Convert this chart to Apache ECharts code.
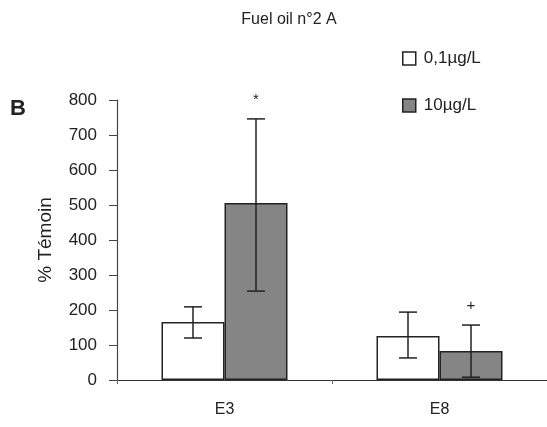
<!DOCTYPE html>
<html><head><meta charset="utf-8">
<script src="https://cdn.jsdelivr.net/npm/echarts@6/dist/echarts.min.js"></script>
<style>html,body{margin:0;padding:0;background:#fff}#c{width:547px;height:427px}</style>
</head><body><div id="c"></div>
<script>
const categories = ['E3', 'E8'];
const seriesNames = ['0,1µg/L', '10µg/L'];
const lowValues = [166, 126];
const lowErrLow = [120, 63];
const lowErrHigh = [209, 194];
const highValues = [506, 83];
const highErrLow = [254, 8];
const highErrHigh = [746, 157];
const lowSig = ['', ''];
const highSig = ['*', '+'];
const yTicks = [0, 100, 200, 300, 400, 500, 600, 700, 800];

const FONT = '"Liberation Sans",Arial,sans-serif';
const BW = 63;

function errSeries(lo, hi, sig, dir) {
  return {
    type: 'custom',
    silent: true,
    z: 10,
    data: categories.map((c, i) => [i, lo[i], hi[i], sig[i]]),
    renderItem: function (params, api) {
      const i = api.value(0);
      const pLo = api.coord([i, api.value(1)]);
      const pHi = api.coord([i, api.value(2)]);
      const x = pLo[0] + dir * BW / 2;
      const cap = 9;
      const st = { stroke: '#222', lineWidth: 1.5 };
      const children = [
        { type: 'line', shape: { x1: x, y1: pLo[1], x2: x, y2: pHi[1] }, style: st },
        { type: 'line', shape: { x1: x - cap, y1: pHi[1], x2: x + cap, y2: pHi[1] }, style: st },
        { type: 'line', shape: { x1: x - cap, y1: pLo[1], x2: x + cap, y2: pLo[1] }, style: st }
      ];
      const s = api.value(3);
      if (s) {
        children.push({ type: 'text', style: { text: s, x: x, y: pHi[1] - 19, align: 'center', verticalAlign: 'middle', fontSize: 15, fontFamily: FONT, fill: '#222' } });
      }
      return { type: 'group', children: children };
    }
  };
}

const chart = echarts.init(document.getElementById('c'), null, { renderer: 'canvas' });
chart.setOption({
  animation: false,
  backgroundColor: '#fff',
  title: {
    text: 'Fuel oil n°2 A', left: 284, top: 7, textAlign: 'center',
    textStyle: { fontSize: 16, fontWeight: 'normal', fontFamily: FONT, color: '#222' }
  },
  legend: {
    orient: 'vertical', left: 397, top: 45, itemWidth: 13, itemHeight: 13, itemGap: 30,
    textStyle: { fontSize: 17, fontFamily: FONT, color: '#222', padding: [0, 0, 0, 3] },
    data: [
      { name: seriesNames[0], icon: 'rect', itemStyle: { color: '#fff', borderColor: '#222', borderWidth: 1.5 } },
      { name: seriesNames[1], icon: 'rect', itemStyle: { color: '#858585', borderColor: '#222', borderWidth: 1.5 } }
    ]
  },
  graphic: [
    { type: 'text', left: 10, top: 98, style: { text: 'B', fontSize: 22, fontWeight: 'bold', fontFamily: FONT, fill: '#222' } }
  ],
  grid: { left: 117, top: 100, width: 432, height: 280, containLabel: false },
  xAxis: {
    type: 'category', data: categories,
    axisLine: { lineStyle: { color: '#333', width: 1.2 } },
    axisTick: { show: true, length: 4, lineStyle: { color: '#666' } },
    axisLabel: { margin: 22, fontSize: 16, fontFamily: FONT, color: '#222' }
  },
  yAxis: {
    type: 'value', min: 0, max: 800, interval: 100,
    name: '% Témoin', nameLocation: 'middle', nameGap: 62, nameRotate: 90,
    nameTextStyle: { fontSize: 19, fontFamily: FONT, color: '#222' },
    splitLine: { show: false },
    axisLine: { show: true, lineStyle: { color: '#444', width: 1.2 } },
    axisTick: { show: true, length: 8, lineStyle: { color: '#444' } },
    axisLabel: { margin: 20, fontSize: 17, fontFamily: FONT, color: '#222',
      formatter: v => yTicks.includes(v) ? String(v) : '' }
  },
  series: [
    { name: seriesNames[0], type: 'bar', data: lowValues, barWidth: BW, barGap: '0%',
      itemStyle: { color: '#fff', borderColor: '#222', borderWidth: 1.5 } },
    { name: seriesNames[1], type: 'bar', data: highValues, barWidth: BW, barGap: '0%',
      itemStyle: { color: '#858585', borderColor: '#222', borderWidth: 1.5 } },
    errSeries(lowErrLow, lowErrHigh, lowSig, -1),
    errSeries(highErrLow, highErrHigh, highSig, 1)
  ]
});
</script></body></html>
